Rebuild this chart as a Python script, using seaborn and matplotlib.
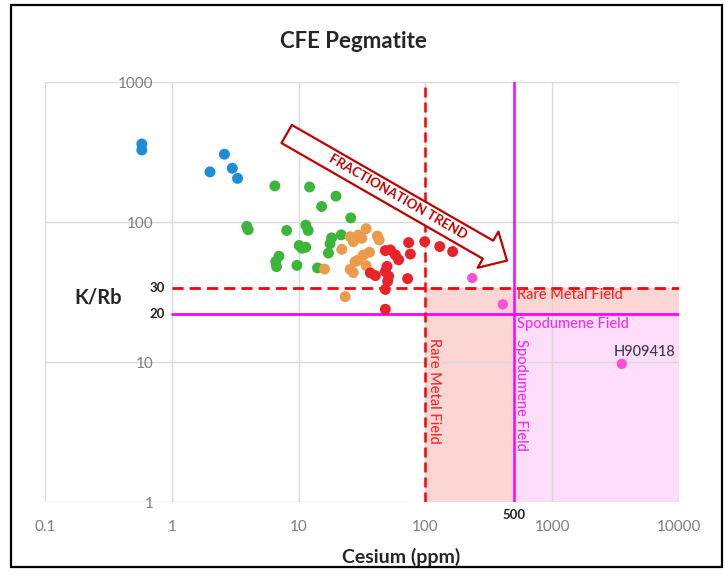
#!/usr/bin/env python3
"""
CFE Pegmatite - K/Rb vs Cesium (ppm) with rare metal / spodumene fields
"""

import matplotlib
matplotlib.use("Agg")
import matplotlib.pyplot as plt
import matplotlib.transforms as mtransforms
from matplotlib.patches import Rectangle
import numpy as np
import pandas as pd
import seaborn as sns

# Données (Cs en ppm, rapport K/Rb)
blue_cs = [0.58, 0.58, 2.6, 2.0, 3.0, 3.3]
blue_krb = [361, 327, 305, 228, 242, 205]

green_cs = [6.5, 12.2, 19.7, 15.2, 25.8, 3.9, 4.0, 8.05, 11.4, 11.9, 10.1,
            10.6, 11.4, 7.0, 6.7, 6.6, 9.7, 14.1, 18.2, 17.7, 17.2, 21.7]
green_krb = [181, 178, 153, 129, 107, 93, 88, 87, 95, 87, 68,
             65, 66, 57, 48, 52, 49, 47, 77, 70, 60, 81]

orange_cs = [34.1, 29.6, 31.5, 25.5, 27.0, 41.8, 43.2, 21.9, 36.2, 32.4,
             29.6, 27.9, 34.1, 25.5, 27.0, 16.0, 23.3]
orange_krb = [89.6, 80.7, 76.5, 78.5, 72.3, 79.4, 74.4, 63.8, 60.8, 58.1,
              53.5, 52.0, 48.7, 45.9, 43.5, 46.1, 29.3]

red_cs = [73.8, 98.8, 129.8, 164, 76.1, 48.3, 52.9, 57.9, 61.5, 49.8,
          48.3, 51.3, 50.4, 48.3, 36.8, 40.3, 72.4, 48.3]
red_krb = [71.3, 72.4, 66.8, 61.5, 59, 62.5, 63.2, 58.3, 53.7, 48.2,
           44.4, 41, 37.7, 33.0, 43.3, 41.4, 39.4, 23.8]

pink_cs = [234, 408, 3540]
pink_krb = [39.8, 25.8, 9.7]

# Seuils des champs
rare_metal_cs = 100
rare_metal_krb = 34      # ligne marquée "30"
spodumene_cs = 500
spodumene_krb = 22       # ligne marquée "20"

x_ticks = [0.1, 1, 10, 100, 1000, 10000]
x_tick_labels = ["0.1", "1", "10", "100", "1000", "10000"]
y_ticks = [1, 10, 100, 1000]
y_tick_labels = ["1", "10", "100", "1000"]

# Positions de la flèche "fractionation trend" (coordonnées des données)
arrow_tail = (8.05, 425)
arrow_tip = (440, 53)
arrow_text_pos = (61.3, 151.6)

colors = {
    "blue": "#1F8DD6",
    "green": "#3DB53A",
    "orange": "#EC9A4C",
    "red": "#E8232A",
    "pink": "#F552D6",
}


def build_frame():
    groups = [("blue", blue_cs, blue_krb), ("green", green_cs, green_krb),
              ("orange", orange_cs, orange_krb), ("red", red_cs, red_krb)]
    rows = []
    for name, cs, krb in groups:
        for c, k in zip(cs, krb):
            rows.append({"cs": c, "krb": k, "group": name})
    return pd.DataFrame(rows)


def main():
    sns.set_theme(style="white")
    plt.rcParams["font.family"] = ["Lato", "DejaVu Sans"]

    fig = plt.figure(figsize=(7.25, 5.78), dpi=100)
    ax = fig.add_axes([45 / 725, 1 - 502 / 578, 634 / 725, 420 / 578])

    ax.set_xscale("log")
    ax.set_yscale("log")
    ax.set_xlim(0.1, 10000)
    ax.set_ylim(1, 1000)

    # Champs colorés
    ax.fill_between([rare_metal_cs, 10000], 1, rare_metal_krb,
                    color="#FCD6D3", lw=0, zorder=0.2)
    ax.fill_between([spodumene_cs, 10000], 1, spodumene_krb,
                    color="#FDDDFA", lw=0, zorder=0.3)

    # Grille
    ax.set_axisbelow(True)
    ax.grid(True, which="major", color="#D9D9D9", lw=1)
    ax.minorticks_off()
    for s in ["top", "right", "bottom"]:
        ax.spines[s].set_visible(False)
    ax.spines["left"].set_position(("data", 1))
    ax.spines["left"].set_color("none")

    ax.set_xticks(x_ticks)
    ax.set_xticklabels(x_tick_labels)
    ax.set_yticks(y_ticks)
    ax.set_yticklabels(y_tick_labels)
    ax.tick_params(axis="both", length=0, labelsize=11, labelcolor="#7F7F7F")
    ax.tick_params(axis="x", pad=13)
    ax.tick_params(axis="y", pad=13)

    # Lignes de seuil
    ax.plot([1, 10000], [rare_metal_krb, rare_metal_krb], color="#FF0000",
            lw=2, dashes=(4, 2.2), zorder=3)
    ax.plot([1, 10000], [spodumene_krb, spodumene_krb], color="#FF00FF",
            lw=2, zorder=3)
    ax.plot([rare_metal_cs, rare_metal_cs], [1, 1000], color="#FF0000",
            lw=1.8, dashes=(4, 2), zorder=3)
    ax.plot([spodumene_cs, spodumene_cs], [1, 1000], color="#FF00FF",
            lw=1.8, zorder=3)

    # Points
    df = build_frame()
    sns.scatterplot(data=df, x="cs", y="krb", hue="group", palette=colors,
                    s=62, edgecolor="none", legend=False, ax=ax, zorder=4)
    sns.scatterplot(x=pink_cs, y=pink_krb, color=colors["pink"], s=55,
                    edgecolor="none", legend=False, ax=ax, zorder=4)
    ax.set_xlabel("")
    ax.set_ylabel("")

    # Textes des champs
    field_font = dict(fontsize=10.5, fontweight="medium", zorder=5)
    ax.text(530, 30.1, "Rare Metal Field", color="#F02828",
            ha="left", va="center", **field_font)
    ax.text(530, 18.7, "Spodumene Field", color="#F030E8",
            ha="left", va="center", **field_font)
    ax.text(117, 6.2, "Rare Metal Field", color="#F02828",
            rotation=270, ha="center", va="center", **field_font)
    ax.text(569, 5.8, "Spodumene Field", color="#F030E8",
            rotation=270, ha="center", va="center", **field_font)
    ax.text(5350, 11.85, "H909418", color="#3A3A4A", ha="center",
            va="center", **field_font)

    # Étiquettes 30 / 20 / 500
    yblend = mtransforms.blended_transform_factory(ax.transAxes, ax.transData)
    ax.text(0.189, rare_metal_krb, "30", transform=yblend, ha="right",
            va="center", fontsize=9.5, fontweight="bold", color="#222222")
    ax.text(0.189, spodumene_krb, "20", transform=yblend, ha="right",
            va="center", fontsize=9.5, fontweight="bold", color="#222222")
    xblend = mtransforms.blended_transform_factory(ax.transData, ax.transAxes)
    ax.text(spodumene_cs, -0.031, "500", transform=xblend, ha="center",
            va="center", fontsize=9.5, fontweight="bold", color="#222222",
            clip_on=False)

    # Flèche de fractionnement
    ax.annotate("", xy=arrow_tip, xytext=arrow_tail,
                arrowprops=dict(arrowstyle="simple,head_length=1.05,head_width=2.0,tail_width=1.0",
                                mutation_scale=15, fc="white", ec="#C00000",
                                lw=1.6, shrinkA=0, shrinkB=0), zorder=6)
    ax.text(arrow_text_pos[0], arrow_text_pos[1], "FRACTIONATION TREND",
            color="#C00000", fontsize=9.5, fontweight="bold", rotation=-30,
            rotation_mode="anchor", ha="center", va="center", zorder=7)

    # Titres
    fig.text(353 / 725, 1 - 41 / 578, "CFE Pegmatite", fontsize=16,
             fontweight="bold", ha="center", va="center")
    fig.text(98 / 725, 1 - 297 / 578, "K/Rb", fontsize=14.5,
             fontweight="bold", ha="center", va="center")
    fig.text(401 / 725, 1 - 557 / 578, "Cesium (ppm)", fontsize=14,
             fontweight="bold", ha="center", va="center")

    # Cadre autour de la figure
    fig.add_artist(Rectangle((11 / 725, 1 - 567 / 578), 711 / 725, 562 / 578,
                             transform=fig.transFigure, fill=False,
                             ec="black", lw=1.6))

    fig.savefig("out.png", dpi=100)


if __name__ == "__main__":
    main()
